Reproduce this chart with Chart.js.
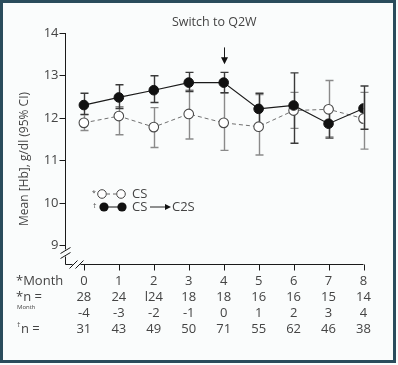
<!DOCTYPE html>
<html>
<head>
<meta charset="utf-8">
<script src="https://cdn.jsdelivr.net/npm/chart.js@4"></script>
<style>
  html, body { margin: 0; padding: 0; background: #fafcfc; }
  canvas { display: block; }
</style>
</head>
<body>
<canvas id="hb_chart" width="398" height="365"></canvas>
<script>
// table rows under the x axis
const months = [0, 1, 2, 3, 4, 5, 6, 7, 8];
const nCS = ["28", "24", "l24", "18", "18", "16", "16", "15", "14"];
const monthsSwitch = ["-4", "-3", "-2", "-1", "0", "1", "2", "3", "4"];
const nSwitch = ["31", "43", "49", "50", "71", "55", "62", "46", "38"];

const yTicks = [9, 10, 11, 12, 13, 14];

// CS (open circles)
const csMean = [11.88, 12.04, 11.78, 12.09, 11.88, 11.79, 12.17, 12.2, 11.98];
const csLow = [11.7, 11.6, 11.3, 11.5, 11.23, 11.12, 11.75, 11.55, 11.26];
const csHigh = [12.07, 12.26, 12.24, 12.65, 12.59, 12.55, 12.6, 12.88, 12.6];

// CS -> C2S (filled circles)
const swMean = [12.3, 12.48, 12.65, 12.83, 12.83, 12.21, 12.29, 11.86, 12.22];
const swLow = [12.08, 12.22, 12.36, 12.62, 12.59, 11.85, 11.4, 11.52, 11.73];
const swHigh = [12.58, 12.78, 12.99, 13.07, 13.07, 12.58, 13.06, 12.2, 12.75];

const switchMonth = 4;

const textColor = "#444";
const fontName = "'Open Sans', 'Noto Sans', sans-serif";

const ctx = document.getElementById("hb_chart").getContext("2d");

function toPoints(values) {
  return months.map((m, i) => ({ x: m, y: values[i] }));
}

// background + frame
const framePlugin = {
  id: "frame",
  beforeDraw(chart) {
    const c = chart.ctx;
    c.save();
    c.fillStyle = "#fafcfc";
    c.fillRect(0, 0, chart.width, chart.height);
    c.restore();
  },
  afterDraw(chart) {
    const c = chart.ctx;
    c.save();
    c.strokeStyle = "#2a4c5c";
    c.lineWidth = 3;
    c.strokeRect(1.5, 1.5, 393, 360);
    c.restore();
  },
};

// hand drawn axes with the break at the origin
const axesPlugin = {
  id: "axes",
  beforeDatasetsDraw(chart) {
    const c = chart.ctx;
    const xs = chart.scales.x;
    const ys = chart.scales.y;
    const area = chart.chartArea;
    const left = Math.round(area.left) + 0.5;
    const bottom = Math.round(area.bottom) + 0.5;

    c.save();
    c.strokeStyle = "#1a1a1a";
    c.lineWidth = 1;

    // y axis
    c.beginPath();
    c.moveTo(left, area.top);
    c.lineTo(left, bottom - 15);
    c.moveTo(left, bottom - 8);
    c.lineTo(left, bottom);
    // x axis
    c.lineTo(left + 7, bottom);
    c.moveTo(left + 15, bottom);
    c.lineTo(area.right, bottom);
    c.stroke();

    // break marks
    c.beginPath();
    [[left, bottom - 14], [left, bottom - 9]].forEach(([px, py]) => {
      c.moveTo(px - 5, py + 3);
      c.lineTo(px + 5, py - 3);
    });
    [[left + 8, bottom], [left + 14, bottom]].forEach(([px, py]) => {
      c.moveTo(px - 4, py + 4);
      c.lineTo(px + 4, py - 4);
    });
    c.stroke();

    // y ticks
    c.fillStyle = textColor;
    c.font = "13px " + fontName;
    c.textAlign = "right";
    c.textBaseline = "middle";
    yTicks.forEach((t) => {
      const py = Math.round(ys.getPixelForValue(t)) + 0.5;
      c.beginPath();
      c.moveTo(left - 6, py);
      c.lineTo(left, py);
      c.stroke();
      c.fillText(String(t), left - 7, py);
    });

    // x ticks
    months.forEach((m) => {
      const px = Math.round(xs.getPixelForValue(m)) + 0.5;
      c.beginPath();
      c.moveTo(px, bottom);
      c.lineTo(px, bottom + 6);
      c.stroke();
    });

    // table under the axis
    const rows = [months.map(String), nCS, monthsSwitch, nSwitch];
    const rowY = [281, 297, 313, 329];
    c.textAlign = "center";
    rows.forEach((row, r) => {
      row.forEach((label, i) => {
        c.fillText(label, xs.getPixelForValue(months[i]), rowY[r]);
      });
    });
    c.textAlign = "left";
    c.fillText("*Month", 16, rowY[0]);
    c.fillText("*n =", 16, rowY[1]);
    c.fillText("n =", 21, rowY[3]);
    c.font = "7px " + fontName;
    c.fillText("\u2020", 17, rowY[3] - 4);
    c.font = "6px " + fontName;
    c.fillText("Month", 17, 307);

    // title and y axis title
    c.font = "12.5px " + fontName;
    c.textAlign = "center";
    c.fillText("Switch to Q2W", (area.left + area.right) / 2, 22);
    c.save();
    c.translate(25, 159);
    c.rotate(-Math.PI / 2);
    c.font = "12px " + fontName;
    c.fillText("Mean [Hb], g/dl (95% CI)", 0, 0);
    c.restore();

    // arrow at the switch
    const ax = Math.round(xs.getPixelForValue(switchMonth)) + 0.5;
    const ayTop = ys.getPixelForValue(13.66);
    const ayTip = ys.getPixelForValue(13.26);
    c.beginPath();
    c.moveTo(ax, ayTop);
    c.lineTo(ax, ayTip - 6);
    c.stroke();
    c.fillStyle = "#111";
    c.beginPath();
    c.moveTo(ax - 3.5, ayTip - 7);
    c.lineTo(ax + 3.5, ayTip - 7);
    c.lineTo(ax, ayTip);
    c.closePath();
    c.fill();

    // error bars, open series first so the filled one sits on top
    const drawBars = (low, high, color, width) => {
      c.strokeStyle = color;
      c.lineWidth = width;
      months.forEach((m, i) => {
        const px = Math.round(xs.getPixelForValue(m)) + 0.5;
        const pl = ys.getPixelForValue(low[i]);
        const ph = ys.getPixelForValue(high[i]);
        c.beginPath();
        c.moveTo(px, pl);
        c.lineTo(px, ph);
        c.moveTo(px - 4, pl);
        c.lineTo(px + 4, pl);
        c.moveTo(px - 4, ph);
        c.lineTo(px + 4, ph);
        c.stroke();
      });
    };
    drawBars(csLow, csHigh, "#8a8a8a", 1.4);
    drawBars(swLow, swHigh, "#3a3a3a", 1.4);

    c.restore();
  },
  afterDatasetsDraw(chart) {
    // legend
    const c = chart.ctx;
    c.save();
    c.lineWidth = 1;
    c.fillStyle = textColor;
    c.textBaseline = "middle";

    const y1 = 194;
    const y2 = 207;
    c.font = "7px " + fontName;
    c.fillText("*", 92, y1 - 1);
    c.fillText("\u2020", 93, y2 - 1);

    c.strokeStyle = "#666";
    c.setLineDash([3, 3]);
    c.beginPath();
    c.moveTo(107, y1);
    c.lineTo(117, y1);
    c.stroke();
    c.setLineDash([]);
    [102, 121].forEach((px) => {
      c.beginPath();
      c.arc(px, y1, 4.3, 0, Math.PI * 2);
      c.fillStyle = "#fff";
      c.fill();
      c.strokeStyle = "#444";
      c.stroke();
    });

    c.strokeStyle = "#111";
    c.beginPath();
    c.moveTo(104, y2);
    c.lineTo(122, y2);
    c.stroke();
    [104, 122].forEach((px) => {
      c.beginPath();
      c.arc(px, y2, 4.6, 0, Math.PI * 2);
      c.fillStyle = "#111";
      c.fill();
    });

    c.fillStyle = textColor;
    c.font = "13px " + fontName;
    c.fillText("CS", 132, y1);
    c.fillText("CS", 132, y2);
    c.fillText("C2S", 172, y2);

    c.strokeStyle = "#222";
    c.beginPath();
    c.moveTo(150, y2);
    c.lineTo(166, y2);
    c.stroke();
    c.fillStyle = "#111";
    c.beginPath();
    c.moveTo(165, y2 - 3);
    c.lineTo(171, y2);
    c.lineTo(165, y2 + 3);
    c.closePath();
    c.fill();
    c.restore();
  },
};

new Chart(ctx, {
  type: "line",
  data: {
    datasets: [
      {
        label: "CS \u2192 C2S",
        data: toPoints(swMean),
        borderColor: "#1a1a1a",
        backgroundColor: "#111",
        borderWidth: 1.2,
        pointRadius: 4.8,
        pointBorderWidth: 1,
        pointBorderColor: "#111",
        pointBackgroundColor: "#111",
        tension: 0,
      },
      {
        label: "CS",
        data: toPoints(csMean),
        borderColor: "#707070",
        borderDash: [4, 3],
        borderWidth: 1,
        pointRadius: 4.8,
        pointBorderWidth: 1.1,
        pointBorderColor: "#4a4a4a",
        pointBackgroundColor: "#ffffff",
        tension: 0,
      },
    ],
  },
  options: {
    responsive: false,
    animation: false,
    devicePixelRatio: 1,
    layout: {
      padding: { left: 65, right: 34.5, top: 33, bottom: 101 },
    },
    plugins: {
      legend: { display: false },
      tooltip: { enabled: false },
    },
    scales: {
      x: { type: "linear", min: -0.54, max: 8, display: false },
      y: { min: 8.55, max: 14, display: false },
    },
  },
  plugins: [framePlugin, axesPlugin],
});
</script>
</body>
</html>
